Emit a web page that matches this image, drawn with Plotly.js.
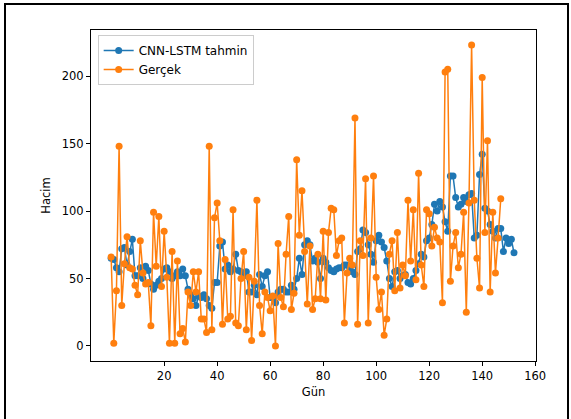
<!DOCTYPE html>
<html>
<head>
<meta charset="utf-8">
<script src="https://cdn.plot.ly/plotly-3.0.1.min.js"></script>
<style>
  html, body { margin: 0; padding: 0; background: #fff; }
  #chart { width: 571px; height: 419px; }
  #frame { position: absolute; left: 4px; top: 3px; width: 561px; height: 440px; border: 2px solid #000; pointer-events: none; }
</style>
</head>
<body>
<div id="chart"></div>
<div id="frame"></div>
<script>
// Predicted (CNN-LSTM tahmin), days 0..152
const tahmin = [65,64,58,55,72,73,60,70,79,52,52,58,50,59,56,46,42,45,48,50,
  57,58,55,50,52,55,52,57,52,42,38,35,30,37,36,38,35,30,28,47,
  47,74,77,57,60,55,57,68,56,55,52,55,40,40,45,38,53,44,52,55,
  36,36,32,40,42,42,40,40,45,42,50,65,53,75,78,75,63,65,62,50,
  65,62,58,56,55,57,58,58,60,60,58,55,53,70,72,86,84,75,68,62,
  78,82,77,73,63,50,44,55,56,50,52,53,47,46,50,56,61,68,66,78,
  80,90,105,100,107,103,92,85,126,126,110,103,105,110,107,112,113,80,82,127,
  142,102,100,90,85,80,87,87,70,80,76,79,69];
// Actual (Gerçek), days 0..147
const gercek = [66,2,41,148,30,61,81,58,57,45,38,78,54,46,47,15,99,59,96,44,
  85,51,2,70,2,63,9,13,3,40,30,55,40,55,20,20,10,148,12,95,
  106,78,16,64,20,22,101,17,15,50,70,12,51,4,48,108,30,9,40,36,
  26,37,0,76,36,29,68,96,27,39,138,82,115,70,31,74,27,35,68,35,
  85,34,84,102,101,67,78,80,17,54,65,60,169,16,78,67,124,17,80,126,
  51,27,40,8,20,68,78,41,84,43,60,52,108,63,101,49,128,60,44,101,
  98,74,88,80,77,32,203,205,48,74,84,58,68,99,25,106,223,108,65,43,
  199,84,152,40,99,54,80,109];

const daysT = tahmin.map((_, i) => i);
const daysG = gercek.map((_, i) => i);

const traces = [
  { x: daysT, y: tahmin, name: 'CNN-LSTM tahmin', type: 'scatter', mode: 'lines+markers',
    line: { color: '#1f77b4', width: 1.5 }, marker: { color: '#1f77b4', size: 7 } },
  { x: daysG, y: gercek, name: 'Gerçek', type: 'scatter', mode: 'lines+markers',
    line: { color: '#ff7f0e', width: 1.5 }, marker: { color: '#ff7f0e', size: 7 } }
];

const font = { family: 'DejaVu Sans, sans-serif', size: 11.5, color: '#000' };
const layout = {
  width: 571, height: 419,
  margin: { l: 91, r: 35, t: 30, b: 58 },
  paper_bgcolor: '#fff', plot_bgcolor: '#fff',
  font: font,
  showlegend: true,
  legend: { x: 0.015, y: 0.985, xanchor: 'left', yanchor: 'top', bgcolor: 'rgba(255,255,255,0.8)',
    bordercolor: '#cccccc', borderwidth: 1, font: { family: 'DejaVu Sans, sans-serif', size: 12, color: '#000' },
    tracegroupgap: 2, itemwidth: 30 },
  xaxis: { range: [-7.6, 160.3], tickvals: [20,40,60,80,100,120,140,160], showgrid: false, zeroline: false,
    showline: true, linecolor: '#000', linewidth: 1, mirror: true, ticks: 'outside', ticklen: 4, tickcolor: '#000',
    title: { text: 'Gün', font: font, standoff: 6 } },
  yaxis: { range: [-11.15, 234.15], tickvals: [0,50,100,150,200], showgrid: false, zeroline: false,
    showline: true, linecolor: '#000', linewidth: 1, mirror: true, ticks: 'outside', ticklen: 4, tickcolor: '#000',
    title: { text: 'Hacim', font: font, standoff: 8 } }
};

Plotly.newPlot('chart', traces, layout, { displayModeBar: false, staticPlot: true });
</script>
</body>
</html>
